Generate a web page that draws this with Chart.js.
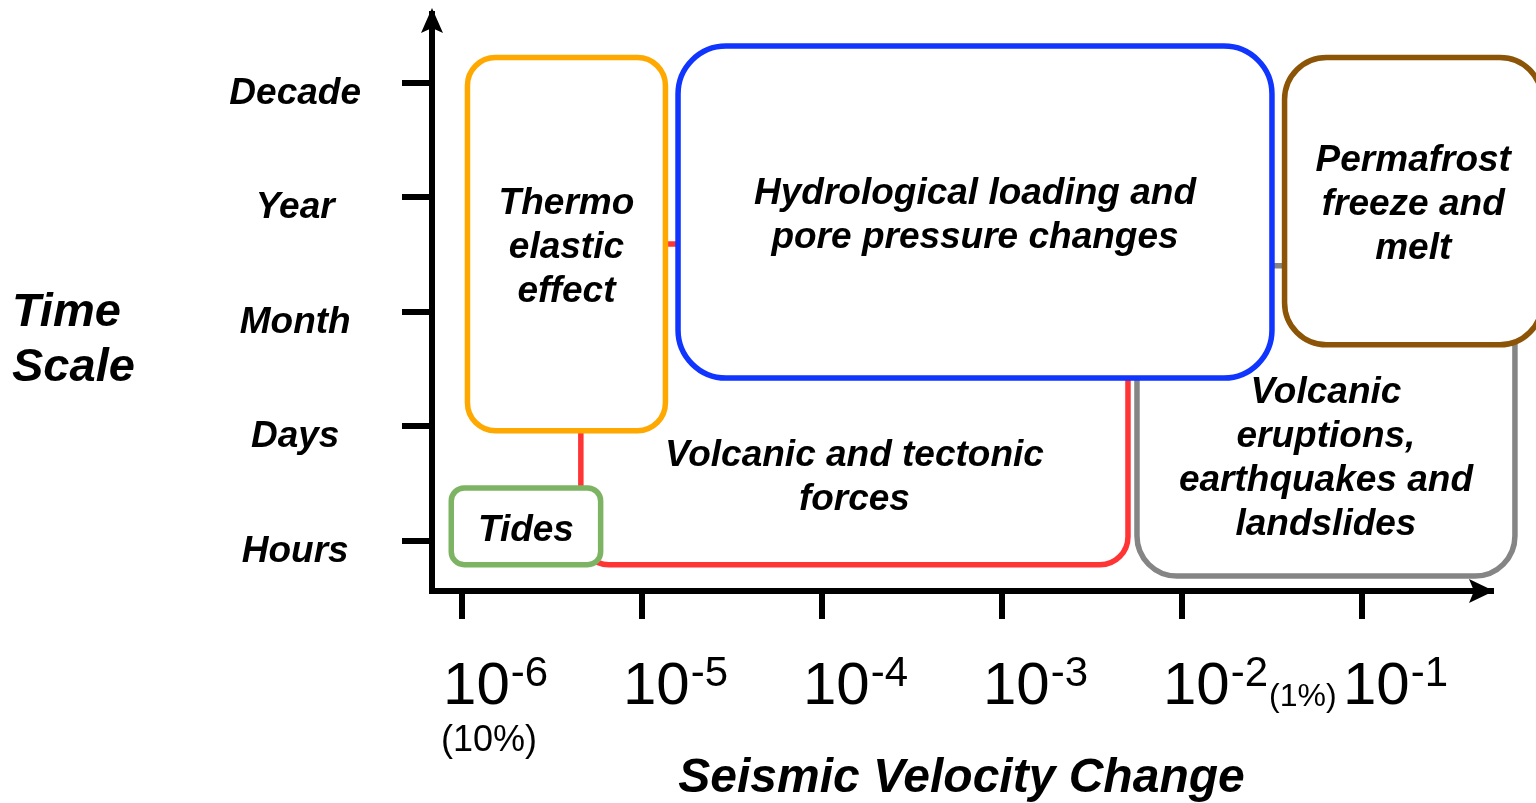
<!DOCTYPE html>
<html>
<head>
<meta charset="utf-8">
<script src="https://cdn.jsdelivr.net/npm/chart.js@4"></script>
<style>
  html, body { margin: 0; padding: 0; background: #fff; }
  #wrap { width: 1536px; height: 803px; position: relative; }
</style>
</head>
<body>
<div id="wrap"><canvas id="chart"></canvas></div>
<script>
const FONT = '"Liberation Sans", Arial, sans-serif';

// time scale categories (y value 1..5)
const timeLabels = ["Hours", "Days", "Month", "Year", "Decade"];
const timeValues = [1, 2, 3, 4, 5];

// x axis: log10 of the seismic velocity change
const exponents = [-6, -5, -4, -3, -2, -1];
const noteBelow = ["(10%)", "", "", "", "", ""];
const noteAfter = ["", "", "", "", "(1%)", ""];

// processes, drawn back to front
const boxNames = [
  "Volcanic and tectonic forces",
  "Volcanic eruptions, earthquakes and landslides",
  "Tides",
  "Thermo elastic effect",
  "Hydrological loading and pore pressure changes",
  "Permafrost freeze and melt"
];
const boxFrom = [-5.34, -2.25, -6.06, -5.97, -4.80, -1.43];
const boxTo   = [-2.30, -0.15, -5.23, -4.87, -1.50, 0.0];
const boxLow  = [0.79, 0.69, 0.79, 1.96, 2.42, 2.71];
const boxHigh = [3.59, 3.40, 1.46, 5.22, 5.32, 5.22];

// how the names are broken into lines, and where the text sits
const boxLines = [
  ["Volcanic and tectonic", "forces"],
  ["Volcanic", "eruptions,", "earthquakes and", "landslides"],
  ["Tides"],
  ["Thermo", "elastic", "effect"],
  ["Hydrological loading and", "pore pressure changes"],
  ["Permafrost", "freeze and", "melt"]
];
const textY = [1.58, 1.75, null, null, null, null];
const boxColors = ["#ff3535", "#858585", "#7db463", "#ffa800", "#0f35ff", "#8b5406"];
const boxRadius = [28, 40, 13, 28, 48, 42];

function roundBox(ctx, x0, y0, x1, y1, r) {
  ctx.beginPath();
  ctx.moveTo(x0 + r, y0);
  ctx.arcTo(x1, y0, x1, y1, r);
  ctx.arcTo(x1, y1, x0, y1, r);
  ctx.arcTo(x0, y1, x0, y0, r);
  ctx.arcTo(x0, y0, x1, y0, r);
  ctx.closePath();
}

const boxPlugin = {
  id: "boxes",
  afterDatasetsDraw(chart) {
    const ctx = chart.ctx;
    const ys = chart.scales.y;
    ctx.save();
    const centers = [];
    chart.data.datasets.forEach((ds, i) => {
      const pts = chart.getDatasetMeta(i).data;
      const x0 = Math.min(pts[0].x, pts[1].x), x1 = Math.max(pts[0].x, pts[1].x);
      const y0 = Math.min(pts[0].y, pts[1].y), y1 = Math.max(pts[0].y, pts[1].y);
      roundBox(ctx, x0, y0, x1, y1, boxRadius[i]);
      ctx.fillStyle = "#fff";
      ctx.fill();
      ctx.lineWidth = 5.5;
      ctx.strokeStyle = boxColors[i];
      ctx.stroke();
      centers.push([(x0 + x1) / 2, textY[i] == null ? (y0 + y1) / 2 : ys.getPixelForValue(textY[i])]);
    });
    ctx.fillStyle = "#000";
    ctx.font = "italic bold 37px " + FONT;
    ctx.textAlign = "center";
    ctx.textBaseline = "middle";
    boxLines.forEach((lines, i) => {
      const [cx, cy] = centers[i];
      const top = cy + 4 - (lines.length - 1) * 44 / 2;
      lines.forEach((t, k) => ctx.fillText(t, cx, top + k * 44));
    });
    ctx.restore();
  },
  afterDraw(chart) {
    const ctx = chart.ctx;
    const a = chart.chartArea;
    const xs = chart.scales.x;
    ctx.save();
    ctx.fillStyle = "#000";
    // arrow heads
    ctx.beginPath();
    ctx.moveTo(a.left, a.top - 6);
    ctx.lineTo(a.left + 11, a.top + 19);
    ctx.lineTo(a.left, a.top + 14);
    ctx.lineTo(a.left - 11, a.top + 19);
    ctx.closePath();
    ctx.fill();
    ctx.beginPath();
    ctx.moveTo(a.right + 3, a.bottom);
    ctx.lineTo(a.right - 22, a.bottom - 12);
    ctx.lineTo(a.right - 17, a.bottom);
    ctx.lineTo(a.right - 22, a.bottom + 12);
    ctx.closePath();
    ctx.fill();

    // x tick labels 10^n
    ctx.textAlign = "left";
    ctx.textBaseline = "alphabetic";
    exponents.forEach((e, i) => {
      const cx = xs.getPixelForValue(e) + 33;
      ctx.font = "60px " + FONT;
      const w1 = ctx.measureText("10").width;
      ctx.font = "42px " + FONT;
      const sup = String(e);
      const w2 = ctx.measureText(sup).width;
      const left = cx - (w1 + w2) / 2;
      ctx.font = "60px " + FONT;
      ctx.fillText("10", left, 704);
      ctx.font = "42px " + FONT;
      ctx.fillText(sup, left + w1 + 1, 686);
      if (noteAfter[i]) {
        ctx.font = "32px " + FONT;
        ctx.fillText(noteAfter[i], left + w1 + w2 + 2, 706);
      }
      if (noteBelow[i]) {
        ctx.font = "36px " + FONT;
        ctx.textAlign = "center";
        ctx.fillText(noteBelow[i], cx - 6, 751);
        ctx.textAlign = "left";
      }
    });

    // y axis title, horizontal
    ctx.font = "italic bold 47px " + FONT;
    ctx.fillText("Time", 12, 326);
    ctx.fillText("Scale", 12, 381);
    ctx.restore();
  }
};

const datasets = boxNames.map((name, i) => ({
  label: name,
  data: [{ x: boxFrom[i], y: boxLow[i] }, { x: boxTo[i], y: boxHigh[i] }],
  pointRadius: 0,
  showLine: false
}));

new Chart(document.getElementById("chart"), {
  type: "scatter",
  data: { datasets: datasets },
  plugins: [boxPlugin],
  options: {
    responsive: true,
    maintainAspectRatio: false,
    animation: false,
    layout: { padding: { top: 14, right: 45, bottom: 0, left: 0 } },
    plugins: { legend: { display: false }, tooltip: { enabled: false } },
    scales: {
      x: {
        type: "linear",
        min: -6.167,
        max: -0.283,
        afterBuildTicks: (s) => { s.ticks = exponents.map(v => ({ value: v })); },
        afterFit: (s) => { s.height = 212; s.paddingLeft = 0; s.paddingRight = 0; },
        ticks: { display: false },
        grid: { drawOnChartArea: false, tickLength: 28, tickWidth: 6, tickColor: "#000", lineWidth: 6, color: "#000" },
        border: { display: true, color: "#000", width: 6 },
        title: {
          display: true,
          text: "Seismic Velocity Change",
          color: "#000",
          font: { family: FONT, size: 48, style: "italic", weight: "bold", lineHeight: 1 },
          padding: { top: 0, bottom: 0 }
        }
      },
      y: {
        type: "linear",
        min: 0.56,
        max: 5.6,
        afterBuildTicks: (s) => { s.ticks = timeValues.map(v => ({ value: v })); },
        afterFit: (s) => { s.width = 432; s.paddingTop = 0; s.paddingBottom = 0; },
        ticks: {
          callback: (v) => timeLabels[timeValues.indexOf(v)],
          color: "#000",
          font: { family: FONT, size: 37, style: "italic", weight: "bold" },
          crossAlign: "center",
          padding: 41,
          labelOffset: 11
        },
        grid: { drawOnChartArea: false, tickLength: 30, tickWidth: 6, tickColor: "#000", lineWidth: 6, color: "#000" },
        border: { display: true, color: "#000", width: 6 }
      }
    }
  }
});
</script>
</body>
</html>
